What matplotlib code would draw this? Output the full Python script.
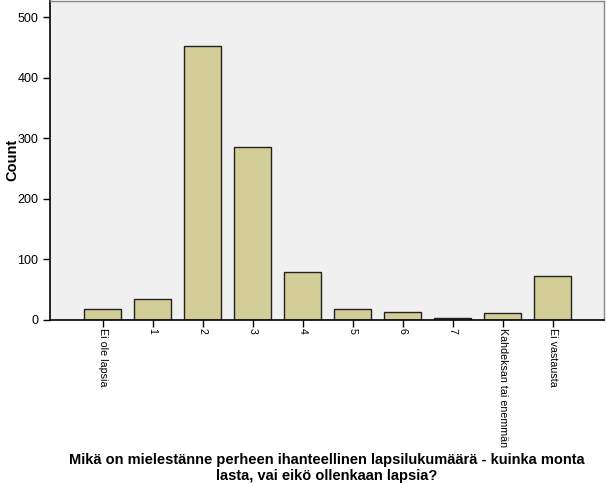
import matplotlib
matplotlib.use("Agg")
import matplotlib.pyplot as plt

# data
cats = ["Ei ole lapsia", "1", "2", "3", "4", "5", "6", "7",
        "Kahdeksan tai enemmän", "Ei vastausta"]
counts = [19, 35, 453, 286, 79, 18, 14, 3, 11, 73]

plt.rcParams["font.family"] = ["Liberation Sans", "DejaVu Sans"]

fig = plt.figure(figsize=(6.07, 4.84), dpi=100)
ax = fig.add_axes([50 / 607, 1 - 320 / 484, 554 / 607, 319.5 / 484])
ax.set_facecolor("#F0F0F0")

x = list(range(len(cats)))
ax.bar(x, counts, width=0.74, color="#D3CE97", edgecolor="#222222", linewidth=1.0, zorder=2)

ax.set_xlim(-1.05, 10.03)
ax.set_ylim(0, 528)
ax.set_yticks([0, 100, 200, 300, 400, 500])
ax.set_xticks(x)
ax.set_xticklabels(cats, rotation=270, ha="center", va="top", fontsize=7.7)
ax.tick_params(axis="y", labelsize=9, length=5, width=1)
ax.tick_params(axis="x", length=5, width=1, pad=0.5)

for s in ["left", "bottom"]:
    ax.spines[s].set_color("black")
    ax.spines[s].set_linewidth(1.2)
for s in ["top", "right"]:
    ax.spines[s].set_color("#888888")
    ax.spines[s].set_linewidth(1.0)

fig.text(12 / 607, 1 - 160 / 484, "Count", rotation=90, ha="center", va="center",
         fontsize=10.5, fontweight="bold")
fig.text(0.539, 0.033, "Mikä on mielestänne perheen ihanteellinen lapsilukumäärä - kuinka monta\nlasta, vai eikö ollenkaan lapsia?",
         ha="center", va="center", fontsize=10.5, fontweight="bold", linespacing=1.1)

fig.savefig("out.png", dpi=100)
